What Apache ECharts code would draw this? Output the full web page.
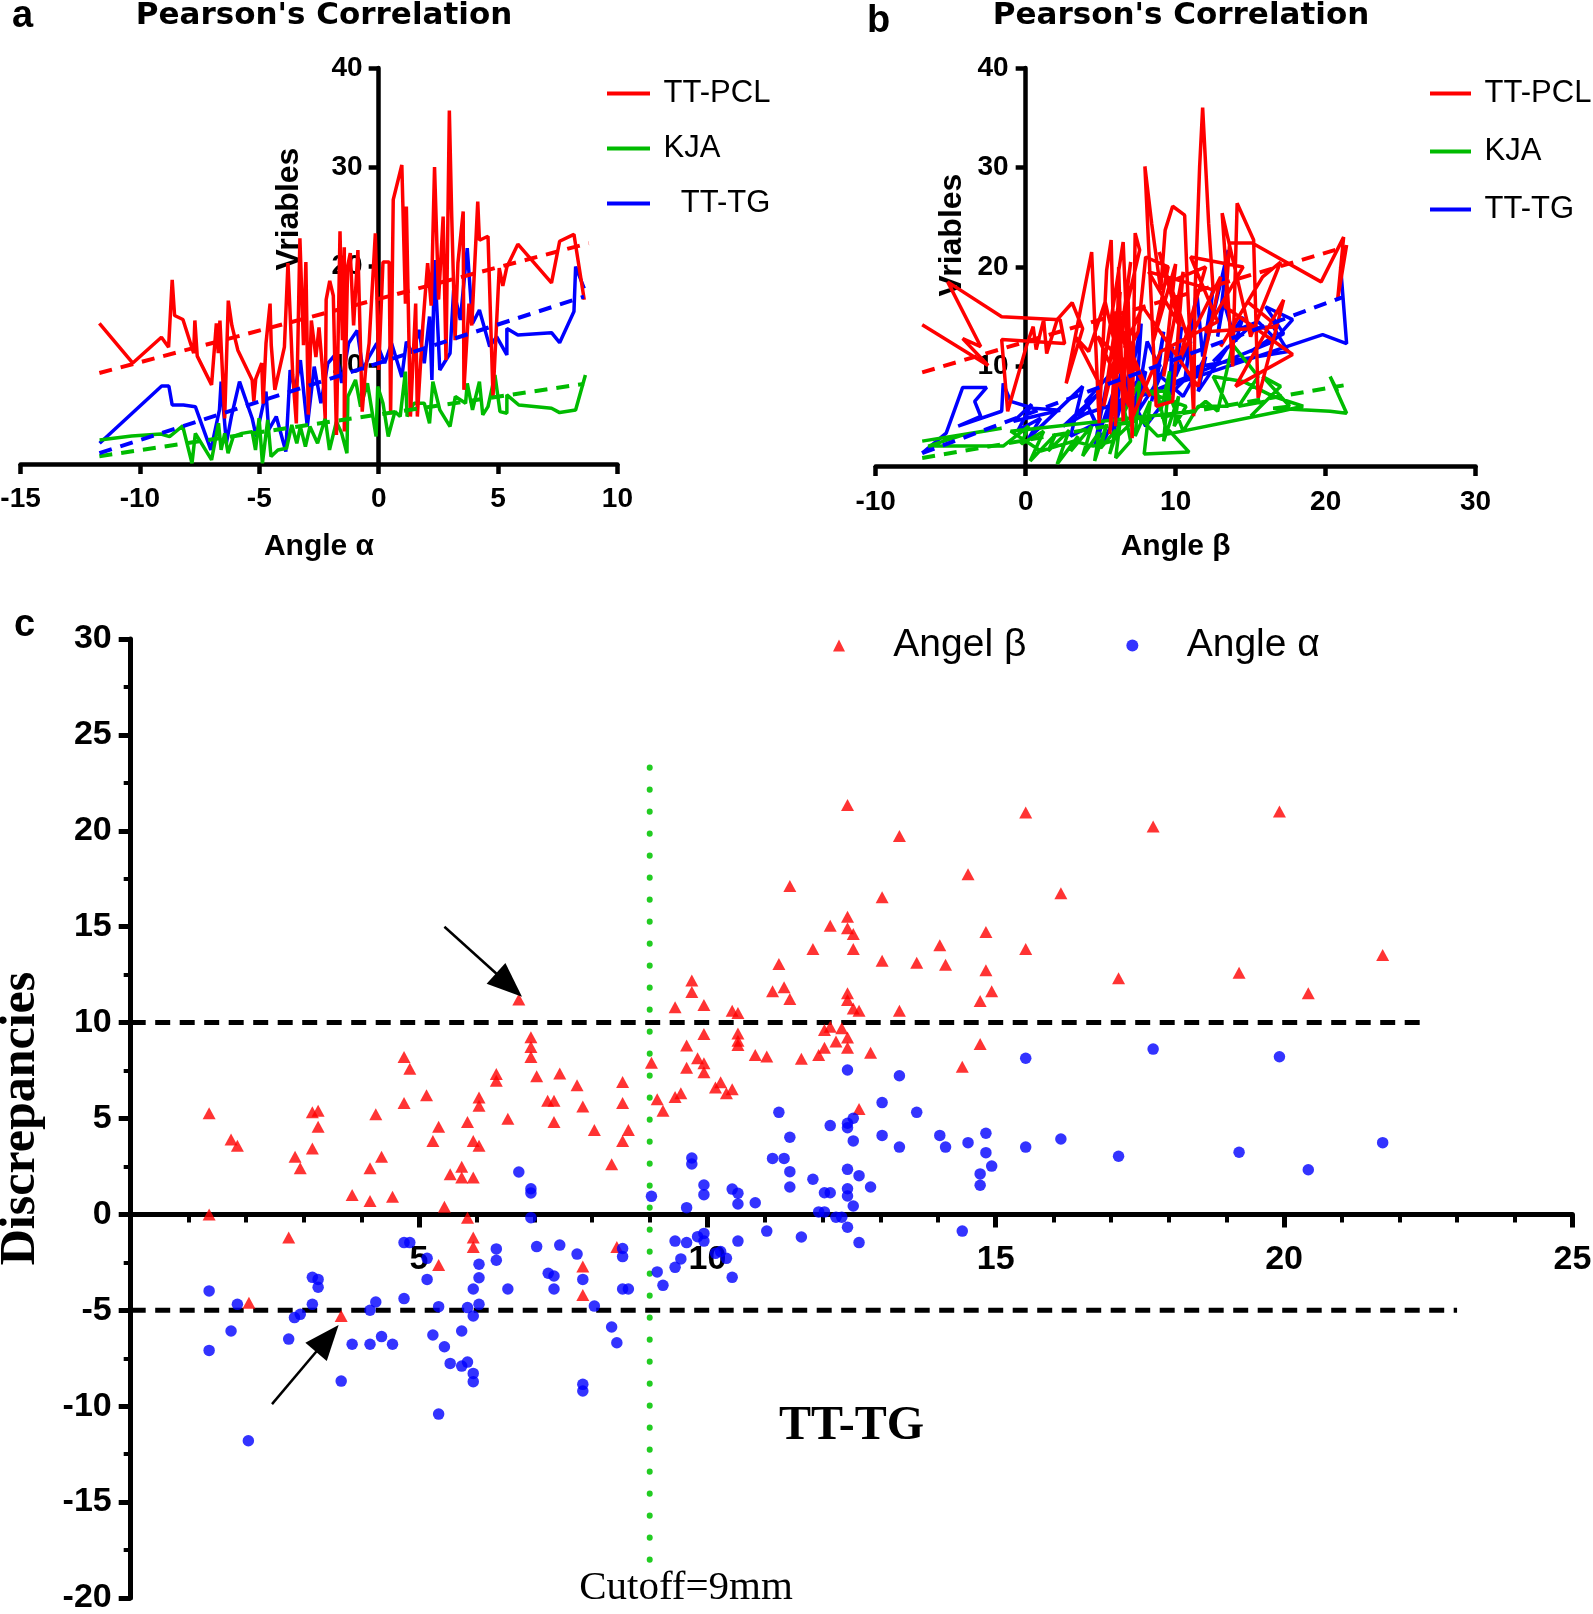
<!DOCTYPE html>
<html>
<head>
<meta charset="utf-8">
<script src="https://cdn.jsdelivr.net/npm/echarts/dist/echarts.min.js"></script>
<style>html,body{margin:0;padding:0;background:#fff}#chart{width:1593px;height:1614px}</style>
</head>
<body>
<div id="chart"></div>
<script>
// ---------- Panel a : variables vs Angle alpha ----------
const aPcl = [[-11.7,14.2],[-10.3,10.2],[-9.1,12.8],[-8.8,11.8],[-8.65,18.6],[-8.55,15.0],[-8.2,14.6],[-7.75,11.2],[-7.7,14.5],[-7.6,10.9],[-7.0,8.0],[-6.8,14.2],[-6.72,11.2],[-6.65,14.5],[-6.45,4.6],[-6.3,16.5],[-6.15,14.0],[-5.9,11.5],[-5.3,8.5],[-5.23,6.3],[-5.15,8.6],[-4.9,10.2],[-4.84,6.1],[-4.72,12.2],[-4.55,16.2],[-4.5,12.0],[-4.35,7.5],[-3.95,11.8],[-3.8,20.3],[-3.6,9.0],[-3.45,4.1],[-3.3,22.8],[-3.15,12.0],[-3.05,20.4],[-2.95,5.0],[-2.82,14.5],[-2.63,10.8],[-2.5,13.8],[-2.35,9.5],[-2.24,4.6],[-2.2,16.6],[-2.05,18.5],[-1.9,17.0],[-1.77,2.95],[-1.62,23.5],[-1.52,12.5],[-1.44,21.9],[-1.44,3.3],[-1.3,20.0],[-1.19,21.3],[-1.05,14.0],[-0.87,21.6],[-0.69,5.3],[-0.55,9.5],[-0.4,12.2],[-0.14,23.3],[0.0,9.5],[0.18,20.4],[0.44,20.4],[0.5,5.0],[0.61,26.7],[0.97,30.2],[1.12,16.2],[1.16,26.0],[1.33,4.8],[1.55,16.2],[1.62,4.8],[1.85,14.0],[2.05,20.3],[2.2,16.0],[2.34,30.0],[2.51,16.6],[2.7,25.0],[2.82,10.5],[2.96,35.7],[3.06,25.0],[3.2,12.5],[3.32,20.3],[3.54,25.5],[3.57,7.5],[3.78,16.2],[3.9,14.0],[4.15,26.5],[4.22,22.6],[4.58,23.0],[4.79,6.8],[5.05,19.8],[5.2,18.0],[5.37,19.9],[5.83,22.2],[7.24,18.3],[7.58,22.5],[8.18,23.2],[8.61,16.6]];
const aTtg = [[-11.69,2.1],[-9.09,7.89],[-8.79,7.89],[-8.65,5.97],[-8.18,5.97],[-7.68,5.8],[-7.03,1.43],[-6.67,5.47],[-6.6,8.33],[-6.38,2.1],[-6.17,4.8],[-5.83,8.33],[-5.3,4.63],[-5.13,2.78],[-4.72,7.32],[-4.61,3.45],[-4.29,4.8],[-3.89,1.26],[-3.71,9.5],[-3.5,7.5],[-3.28,10.5],[-2.99,3.79],[-2.7,9.84],[-2.42,6.14],[-2.13,10.18],[-1.77,11.19],[-1.55,8.2],[-1.26,12.2],[-0.9,13.5],[-0.66,9.5],[-0.4,10.85],[-0.08,12.2],[0.25,10.2],[0.54,12.2],[0.97,8.8],[1.16,12.36],[1.41,11.19],[1.69,13.55],[1.91,10.18],[2.13,14.9],[2.23,8.5],[2.34,20.6],[2.56,9.5],[2.99,11.19],[3.14,17.6],[3.42,14.55],[3.71,21.8],[3.93,14.2],[4.22,15.56],[4.65,11.86],[4.94,12.87],[5.37,11.02],[5.37,13.7],[5.83,13.04],[7.24,13.27],[7.58,12.26],[8.18,15.4],[8.25,19.94],[8.61,17.75]];
const aKja = [[-11.69,2.44],[-10.35,2.84],[-9.12,3.04],[-8.76,2.78],[-8.21,3.85],[-7.82,0.08],[-7.68,3.1],[-7.0,0.42],[-6.71,4.12],[-6.6,1.43],[-6.45,3.1],[-6.31,1.1],[-6.09,2.78],[-5.73,3.1],[-5.3,3.28],[-5.16,1.43],[-5.01,4.63],[-4.87,0.08],[-4.65,4.46],[-4.51,0.76],[-4.22,1.43],[-3.86,1.6],[-3.64,3.95],[-3.43,2.1],[-3.28,3.79],[-3.07,1.77],[-2.88,3.79],[-2.56,2.1],[-2.24,4.63],[-2.06,1.43],[-1.77,4.29],[-1.55,3.1],[-1.33,1.1],[-1.29,6.82],[-0.97,8.5],[-0.76,5.8],[-0.47,8.16],[-0.11,2.78],[-0.04,7.82],[0.18,6.14],[0.4,2.78],[0.68,5.3],[0.9,4.8],[1.12,9.34],[1.19,4.8],[1.48,6.14],[1.91,6.14],[2.13,4.12],[2.27,8.33],[2.56,5.47],[2.99,3.79],[3.21,6.82],[3.64,6.14],[3.71,8.16],[3.93,5.47],[4.22,8.33],[4.36,4.97],[4.58,5.8],[4.87,9.0],[5.08,5.3],[5.37,5.14],[5.37,6.99],[5.87,5.97],[7.24,5.64],[7.58,5.2],[8.25,5.47],[8.66,9.0]];
const aPclFit = [[-11.7,9.2],[8.8,22.3]];
const aTtgFit = [[-11.7,1.1],[8.6,16.9]];
const aKjaFit = [[-11.7,0.8],[8.6,8.1]];

// ---------- Panel b : variables vs Angle beta ----------
const bPcl = [[-6.9,14.2],[-2.5,10.1],[-4.2,12.8],[-3.0,12.0],[-5.2,18.5],[-1.6,15.0],[2.3,14.7],[2.6,12.3],[-1.6,12.7],[-1.2,5.5],[0.1,12.3],[0.5,14.0],[0.7,11.7],[1.2,14.7],[1.4,11.3],[2.1,14.7],[3.1,16.4],[3.8,13.8],[2.7,8.3],[4.4,21.5],[4.9,4.3],[5.4,19.7],[5.7,22.7],[6.0,4.0],[6.2,20.0],[6.5,4.3],[6.8,18.4],[7.1,2.8],[7.3,23.4],[7.6,21.7],[5.2,6.0],[6.3,17.5],[5.6,3.2],[7.0,20.5],[6.0,9.0],[7.5,13.5],[8.0,21.0],[9.5,20.0],[8.5,12.5],[10.0,20.3],[9.2,9.0],[10.5,19.5],[9.8,6.5],[8.7,6.0],[7.95,30.1],[8.4,24.4],[9.0,17.7],[9.3,23.7],[9.8,26.1],[10.6,25.2],[10.8,17.7],[11.2,5.0],[11.3,17.7],[11.6,30.1],[11.8,36.0],[12.2,24.4],[12.5,17.7],[8.2,19.5],[10.3,14.0],[8.9,21.5],[11.0,12.0],[9.6,18.5],[12.0,20.0],[10.2,10.5],[13.0,19.0],[11.5,8.0],[7.8,16.0],[6.6,12.0],[8.3,7.0],[5.9,15.5],[7.2,9.5],[4.8,13.0],[6.9,6.0],[5.3,16.5],[4.2,11.5],[3.3,13.0],[5.0,8.0],[6.5,22.5],[7.0,4.5],[9.0,11.5],[12.8,14.5],[11.0,21.0],[14.5,20.0],[12.0,13.5],[16.8,14.0],[14.8,16.5],[13.0,12.0],[15.8,19.0],[17.0,20.5],[15.0,13.0],[13.1,25.4],[13.8,10.0],[14.1,26.4],[15.2,22.7],[15.5,6.8],[17.2,16.7],[14.0,8.0],[17.8,11.2],[13.3,16.0],[13.6,22.4],[15.1,22.4],[19.7,18.5],[21.2,23.0],[20.8,16.7],[21.4,22.2]];
const bTtg = [[-6.9,1.3],[-5.3,3.3],[-4.2,7.9],[-2.6,7.9],[-3.4,6.5],[-3.0,5.0],[-4.5,4.0],[-1.6,5.5],[-1.5,8.3],[-1.0,6.5],[0.5,5.8],[2.3,5.6],[-0.8,4.5],[0.4,6.2],[-0.5,3.6],[1.0,4.8],[0.2,2.8],[3.8,8.0],[3.0,3.0],[4.7,4.3],[4.0,6.5],[5.5,9.0],[4.6,2.0],[6.1,8.5],[5.4,4.5],[6.4,9.5],[5.8,3.0],[7.0,10.0],[6.6,5.5],[7.7,14.3],[7.3,5.0],[8.1,12.5],[8.9,10.0],[8.4,6.5],[9.2,13.5],[8.7,8.0],[9.8,12.0],[9.5,6.5],[10.4,14.0],[10.0,9.0],[11.0,12.5],[10.6,8.5],[11.4,17.7],[11.8,11.0],[12.5,18.0],[12.1,12.5],[13.5,21.7],[12.8,13.0],[13.2,16.5],[14.0,12.5],[14.5,15.0],[13.8,13.5],[15.5,14.5],[16.5,13.0],[15.0,11.5],[17.2,13.3],[16.0,16.0],[17.8,14.7],[16.5,12.5],[6.0,6.0],[8.0,9.5],[7.5,5.5],[9.0,9.0],[10.5,7.0],[12.0,11.0],[11.5,7.5],[13.5,12.0],[12.5,10.5],[14.8,13.8],[16.5,14.0],[17.5,11.5],[11.5,10.0],[9.5,7.0],[8.0,4.0],[6.8,7.5],[5.2,2.5],[4.3,5.5],[2.5,4.0],[5.0,7.5],[3.5,5.0],[19.8,13.2],[21.4,12.3],[21.0,20.0]];
const bKja = [[-6.9,2.5],[-1.6,3.8],[-4.0,3.2],[-6.5,2.0],[-1.5,2.0],[0.2,4.0],[-0.3,2.2],[1.2,3.5],[0.3,0.5],[2.0,3.2],[1.5,1.5],[2.9,3.6],[2.1,0.2],[3.5,3.0],[3.0,1.5],[4.4,4.0],[3.8,1.0],[4.9,3.4],[4.6,0.5],[5.4,4.2],[5.0,1.8],[6.0,3.6],[5.6,1.2],[6.3,4.5],[6.0,0.8],[7.0,2.5],[6.6,5.5],[7.6,8.5],[7.3,3.0],[8.3,6.5],[7.9,1.2],[10.9,1.4],[9.3,4.0],[8.6,8.5],[9.0,5.5],[9.6,9.5],[9.2,2.5],[10.2,7.0],[9.9,4.0],[10.7,6.0],[8.0,7.5],[9.5,7.5],[10.5,3.5],[11.5,6.0],[13.5,6.0],[12.5,9.0],[14.5,8.5],[16.5,7.0],[18.5,6.0],[17.0,5.5],[8.8,3.0],[7.5,5.0],[5.8,2.5],[4.5,2.0],[3.2,2.5],[1.0,1.5],[-1.0,3.5],[11.2,5.5],[12.0,6.5],[12.8,5.5],[13.8,12.2],[15.5,9.0],[14.2,6.0],[16.0,6.5],[15.0,5.0],[17.0,8.0],[15.8,9.0],[17.6,6.0],[16.5,5.8],[20.3,5.5],[21.4,5.3],[20.3,9.0],[20.8,7.5]];
const bPclFit = [[-6.9,9.4],[21.3,22.0]];
const bTtgFit = [[-6.9,1.3],[21.2,17.0]];
const bKjaFit = [[-6.9,0.8],[21.2,8.1]];

// ---------- Panel c : discrepancies vs TT-TG ----------
const betaPts = [[1.36,5.27],[1.36,0.0],[1.74,3.91],[1.85,3.58],[2.85,3.01],[2.94,2.40],[3.15,5.32],[3.25,5.41],[3.25,4.57],[3.15,3.43],[3.84,1.01],[4.15,2.40],[4.15,0.70],[4.25,5.22],[4.35,3.01],[4.54,0.92],[4.74,8.21],[4.84,7.60],[4.74,5.81],[5.13,6.21],[5.34,4.57],[5.24,3.83],[5.44,0.40],[5.54,2.09],[5.74,2.49],[5.74,1.92],[5.94,1.92],[5.84,4.82],[5.94,3.83],[6.04,3.58],[6.04,6.10],[6.04,5.67],[5.84,-0.17],[6.34,7.32],[6.34,6.97],[6.54,4.99],[6.73,11.21],[6.94,9.23],[6.94,8.73],[6.94,8.21],[7.04,7.20],[7.44,7.34],[7.23,5.93],[7.34,5.93],[7.34,4.82],[7.74,6.73],[7.84,5.62],[8.04,4.40],[8.34,2.61],[8.53,6.90],[8.53,5.81],[8.63,4.40],[8.53,3.83],[9.03,7.91],[9.13,6.00],[9.23,5.41],
[2.74,-1.21],[2.05,-4.60],[3.65,-5.30],[5.94,-1.21],[5.94,-1.70],[5.34,-2.64],[7.84,-2.72],[7.84,-4.20],[8.43,-1.70],
[12.43,21.35],[15.52,20.95],[13.33,19.73],[14.52,17.73],[11.43,17.12],[13.03,16.53],[16.13,16.74],[12.43,15.52],[12.13,15.05],[12.43,14.92],[12.53,14.62],[12.53,13.84],[11.83,13.84],[14.83,14.72],[14.03,14.03],[15.52,13.84],[13.03,13.23],[13.63,13.12],[14.13,13.02],[11.24,13.05],[11.13,11.63],[11.33,11.84],[11.43,11.23],[14.83,12.73],[14.93,11.63],[14.73,11.13],[12.43,11.53],[12.43,11.18],[12.53,10.73],[12.63,10.62],[13.33,10.62],[9.73,12.20],[9.73,11.60],[9.44,10.80],[9.94,10.92],[10.43,10.62],[10.53,10.50],[9.94,9.41],[10.53,9.43],[10.53,9.06],[10.53,8.83],[9.64,8.80],[9.64,7.65],[9.83,8.14],[9.94,7.88],[9.94,7.41],[10.83,8.31],[11.03,8.23],[11.63,8.12],[11.93,8.31],[12.03,8.69],[12.03,9.61],[12.13,9.79],[12.33,9.70],[12.23,9.01],[12.43,9.22],[12.43,8.69],[12.83,8.43],[14.42,7.70],[14.73,8.88],[10.14,6.61],[10.23,6.89],[10.33,6.31],[10.43,6.52],[9.44,6.12],[9.54,6.31],[12.63,5.50],
[17.13,12.31],[17.73,20.22],[19.22,12.60],[19.92,21.00],[20.42,11.53],[21.71,13.52]];
const alphaPts = [[6.73,2.21],[6.94,1.34],[6.94,1.12],[6.94,-0.17],[9.03,0.94],
[1.36,-3.99],[1.36,-7.09],[1.74,-6.08],[1.85,-4.69],[2.74,-6.50],[2.84,-5.38],[2.94,-5.21],[3.15,-3.28],[3.25,-3.39],[3.25,-3.80],[3.15,-4.69],[3.65,-8.69],[3.84,-6.77],[4.15,-6.77],[4.35,-6.37],[4.54,-6.77],[4.15,-5.00],[4.25,-4.57],[4.74,-1.47],[4.84,-1.47],[4.74,-4.39],[5.14,-2.29],[5.14,-3.39],[5.34,-4.81],[5.24,-6.29],[5.44,-6.90],[5.34,-10.41],[5.54,-7.77],[5.74,-7.91],[5.84,-7.70],[5.74,-6.08],[5.84,-4.86],[5.94,-5.30],[5.94,-8.29],[5.94,-8.72],[5.94,-3.89],[6.04,-3.30],[6.04,-2.60],[6.04,-4.69],[6.34,-1.80],[6.34,-2.39],[6.54,-3.89],[7.04,-1.68],[7.44,-1.60],[7.74,-2.07],[7.24,-3.07],[7.34,-3.21],[7.34,-3.89],[8.04,-4.78],[7.84,-3.39],[7.84,-8.86],[7.84,-9.21],[8.34,-5.87],[8.43,-6.69],[8.53,-1.78],[8.53,-2.20],[8.53,-3.89],[8.63,-3.89],[9.13,-3.00],[9.23,-3.70],[2.04,-11.80],
[15.52,8.14],[12.43,7.53],[13.33,7.23],[13.03,5.83],[13.63,5.32],[11.24,5.32],[12.13,4.63],[12.43,4.75],[12.43,4.52],[12.53,5.01],[11.43,4.02],[13.03,4.12],[13.33,3.51],[12.53,3.83],[14.03,4.12],[14.13,3.51],[14.52,3.74],[14.83,4.23],[14.83,3.22],[14.93,2.52],[14.73,2.11],[14.73,1.52],[15.52,3.51],[16.13,3.93],[9.73,2.94],[9.73,2.63],[11.13,2.92],[11.33,2.92],[11.43,2.23],[11.43,1.43],[11.83,1.83],[12.43,2.35],[12.63,2.02],[12.83,1.43],[12.43,1.34],[12.43,0.96],[12.53,0.44],[12.03,1.13],[12.13,1.13],[11.93,0.13],[12.03,0.13],[12.23,-0.15],[12.33,-0.15],[12.43,-0.67],[12.63,-1.47],[9.94,1.53],[9.94,1.03],[10.43,1.32],[10.53,1.10],[10.53,0.54],[10.83,0.61],[9.64,0.35],[11.03,-0.87],[11.63,-1.18],[14.42,-0.87],[9.44,-1.39],[9.64,-1.47],[9.83,-1.16],[9.94,-0.99],[9.94,-1.39],[10.53,-1.39],[10.14,-2.03],[10.23,-1.94],[10.33,-2.29],[9.54,-2.32],[9.44,-2.76],[10.43,-3.28],
[17.73,8.62],[19.92,8.22],[17.13,3.03],[19.22,3.24],[20.42,2.33],[21.71,3.74]];
const cutoffLine = [[9,-18],[9,23.5]];
const upperLimit = [[0,10],[22.5,10]];
const lowerLimit = [[0,-5],[23,-5]];
const arrow1 = [[5.44,15.0],[6.56,11.96]];
const arrow2 = [[2.45,-9.89],[3.41,-6.47]];

const SANS = '"Liberation Sans", Arial, Helvetica, sans-serif';
const SERIF = '"Liberation Serif", "Times New Roman", serif';
const RED = '#ff0000', GREEN = '#00bb00', BLUE = '#0000ff';

// grid boxes (pixels) and axis crossing offsets
const gridA = {left: 20.6, top: 67.9, width: 596.8, height: 396.2};
const gridB = {left: 875.7, top: 67.9, width: 599.9, height: 398.1};
const gridC = {left: 130.7, top: 639, width: 1441.7, height: 959};
const zeroOffsetA = -(gridA.width * 15 / 25);   // y axis sits at alpha = 0
const zeroOffsetB = -(gridB.width * 10 / 40);   // y axis sits at beta = 0
const zeroOffsetC = -(gridC.height * 20 / 50);  // x axis sits at discrepancy = 0

const chart = echarts.init(document.getElementById('chart'), null, {renderer: 'canvas'});

function axisCommon(lw, tickLen, fs, margin) {
  return {
    type: 'value',
    axisLine: {show: true, onZero: false, lineStyle: {color: '#000', width: lw}},
    axisTick: {show: true, length: tickLen, lineStyle: {color: '#000', width: lw}},
    axisLabel: {color: '#000', fontSize: fs, fontWeight: 'bold', fontFamily: SANS, margin: margin},
    splitLine: {show: false}
  };
}

function lineSeries(name, data, color, gi, dashed, z) {
  return {
    type: 'line', name: name, data: data, xAxisIndex: gi, yAxisIndex: gi,
    color: color, showSymbol: false, symbol: 'none', smooth: false,
    lineStyle: {color: color, width: dashed ? 4 : 3.5, type: dashed ? [13, 9] : 'solid'},
    itemStyle: {color: color}, z: z, silent: true
  };
}

const xA = Object.assign(axisCommon(4.5, 10, 28, 21), {gridIndex: 0, position: 'bottom', min: -15, max: 10, interval: 5,
  name: 'Angle α', nameLocation: 'middle', nameGap: 68,
  nameTextStyle: {fontSize: 30, fontWeight: 'bold', color: '#000', fontFamily: SANS}});
const yA = Object.assign(axisCommon(4.5, 10, 28, 16), {gridIndex: 0, position: 'left', offset: zeroOffsetA, min: 0, max: 40, interval: 10});
yA.axisLabel.showMinLabel = false;
const xB = Object.assign(axisCommon(4.5, 10, 28, 22), {gridIndex: 1, position: 'bottom', min: -10, max: 30, interval: 10,
  name: 'Angle β', nameLocation: 'middle', nameGap: 66,
  nameTextStyle: {fontSize: 30, fontWeight: 'bold', color: '#000', fontFamily: SANS}});
const yB = Object.assign(axisCommon(4.5, 10, 28, 17), {gridIndex: 1, position: 'left', offset: zeroOffsetB, min: 0, max: 40, interval: 10});
yB.axisLabel.showMinLabel = false;
const xC = Object.assign(axisCommon(5, 13, 34, 28), {gridIndex: 2, position: 'bottom', offset: zeroOffsetC, min: 0, max: 25, interval: 5,
  minorTick: {show: true, splitNumber: 5, length: 8, lineStyle: {color: '#000', width: 4}},
  name: 'TT-TG', nameLocation: 'middle', nameGap: 188,
  nameTextStyle: {fontSize: 48, fontWeight: 'bold', color: '#000', fontFamily: SERIF}});
xC.axisLabel.showMinLabel = false;
const yC = Object.assign(axisCommon(5, 12, 34, 19), {gridIndex: 2, position: 'left', min: -20, max: 30, interval: 5,
  minorTick: {show: true, splitNumber: 2, length: 7, lineStyle: {color: '#000', width: 4}},
  name: 'Discrepancies', nameLocation: 'middle', nameGap: 85, nameRotate: 90,
  nameTextStyle: {fontSize: 50, fontWeight: 'bold', color: '#000', fontFamily: SERIF}});

const titleStyle = {fontSize: 31, fontWeight: 'bold', color: '#000', fontFamily: '"DejaVu Sans", sans-serif'};
const panelStyle = {fontSize: 38, fontWeight: 'bold', color: '#000', fontFamily: SANS};

const option = {
  animation: false,
  backgroundColor: '#fff',
  title: [
    {text: 'a', left: 12, top: -2, padding: 0, textStyle: panelStyle},
    {text: 'b', left: 867, top: 3, padding: 0, textStyle: panelStyle},
    {text: 'c', left: 14, top: 607, padding: 0, textStyle: panelStyle},
    {text: "Pearson's Correlation", left: 324, top: 0, padding: 0, textAlign: 'center', textStyle: titleStyle},
    {text: "Pearson's Correlation", left: 1181, top: 0, padding: 0, textAlign: 'center', textStyle: titleStyle}
  ],
  legend: [
    {data: ['TT-PCL', 'KJA', 'TT-TG'], orient: 'vertical', left: 607, top: 78, padding: 0,
     itemWidth: 43, itemHeight: 4, itemGap: 24, icon: 'rect', selectedMode: false,
     formatter: n => (n === 'TT-TG' ? '   ' + n : ' ' + n),
     textStyle: {fontSize: 31, color: '#000', fontFamily: SANS}},
    {data: ['TT-PCL', 'KJA', 'TT-TG'], orient: 'vertical', left: 1430, top: 78, padding: 0,
     itemWidth: 41, itemHeight: 4, itemGap: 27, icon: 'rect', selectedMode: false,
     formatter: n => ' ' + n,
     textStyle: {fontSize: 31, color: '#000', fontFamily: SANS}},
    {data: [{name: 'Angel β', icon: 'triangle'}, {name: 'Angle α', icon: 'circle'}], orient: 'horizontal',
     left: 833, top: 626, padding: 0, itemWidth: 12, itemHeight: 12, itemGap: 100, selectedMode: false,
     formatter: n => '    ' + n,
     textStyle: {fontSize: 39, color: '#000', fontFamily: SANS}}
  ],
  grid: [
    Object.assign({containLabel: false, outerBoundsMode: 'none'}, gridA),
    Object.assign({containLabel: false, outerBoundsMode: 'none'}, gridB),
    Object.assign({containLabel: false, outerBoundsMode: 'none'}, gridC)
  ],
  xAxis: [xA, xB, xC],
  yAxis: [yA, yB, yC],
  graphic: [
    {type: 'text', x: 289, y: 209, rotation: Math.PI / 2, z: 0, silent: true,
     style: {text: 'Vriables', font: 'bold 32px ' + SANS, fill: '#000', textAlign: 'center', textVerticalAlign: 'middle', align: 'center', verticalAlign: 'middle'}},
    {type: 'text', x: 952, y: 235, rotation: Math.PI / 2, z: 0, silent: true,
     style: {text: 'Vriables', font: 'bold 32px ' + SANS, fill: '#000', textAlign: 'center', textVerticalAlign: 'middle', align: 'center', verticalAlign: 'middle'}},
    {type: 'text', x: 686, y: 1588, z: 0, silent: true,
     style: {text: 'Cutoff=9mm', font: '41px ' + SERIF, fill: '#000', textAlign: 'center', textVerticalAlign: 'middle', align: 'center', verticalAlign: 'middle'}}
  ],
  series: [
    lineSeries('TT-TG', aTtg, BLUE, 0, false, 2),
    lineSeries('KJA', aKja, GREEN, 0, false, 2.1),
    lineSeries('TT-PCL', aPcl, RED, 0, false, 2.2),
    lineSeries('TT-PCL fit α', aPclFit, RED, 0, true, 3),
    lineSeries('KJA fit α', aKjaFit, GREEN, 0, true, 3),
    lineSeries('TT-TG fit α', aTtgFit, BLUE, 0, true, 3),
    lineSeries('TT-TG', bTtg, BLUE, 1, false, 2),
    lineSeries('KJA', bKja, GREEN, 1, false, 2.1),
    lineSeries('TT-PCL', bPcl, RED, 1, false, 2.2),
    lineSeries('TT-PCL fit β', bPclFit, RED, 1, true, 3),
    lineSeries('KJA fit β', bKjaFit, GREEN, 1, true, 3),
    lineSeries('TT-TG fit β', bTtgFit, BLUE, 1, true, 3),
    {type: 'line', name: 'Upper limit', data: upperLimit, xAxisIndex: 2, yAxisIndex: 2, symbol: 'none', silent: true, z: 1,
     lineStyle: {color: '#000', width: 5, type: [15, 9.5]}},
    {type: 'line', name: 'Lower limit', data: lowerLimit, xAxisIndex: 2, yAxisIndex: 2, symbol: 'none', silent: true, z: 1,
     lineStyle: {color: '#000', width: 5, type: [15, 9.5]}},
    {type: 'line', name: 'Cutoff', data: cutoffLine, xAxisIndex: 2, yAxisIndex: 2, symbol: 'none', silent: true, z: 1,
     lineStyle: {color: '#22cc22', width: 6, type: [0.1, 21.9], cap: 'round'}},
    {type: 'scatter', name: 'Angel β', data: betaPts, xAxisIndex: 2, yAxisIndex: 2, color: RED,
     symbol: 'triangle', symbolSize: [13, 12], itemStyle: {color: RED}, z: 3, silent: true,
     markLine: {silent: true, animation: false, symbol: ['none', 'triangle'], symbolSize: [28, 35],
       label: {show: false}, lineStyle: {color: '#000', width: 2.5, type: 'solid'}, itemStyle: {color: '#000'},
       data: [[{coord: arrow1[0]}, {coord: arrow1[1]}], [{coord: arrow2[0]}, {coord: arrow2[1]}]]}},
    {type: 'scatter', name: 'Angle α', data: alphaPts, xAxisIndex: 2, yAxisIndex: 2, color: BLUE,
     symbol: 'circle', symbolSize: 11.5, itemStyle: {color: BLUE}, z: 3, silent: true}
  ]
};
chart.setOption(option);
</script>
</body>
</html>
